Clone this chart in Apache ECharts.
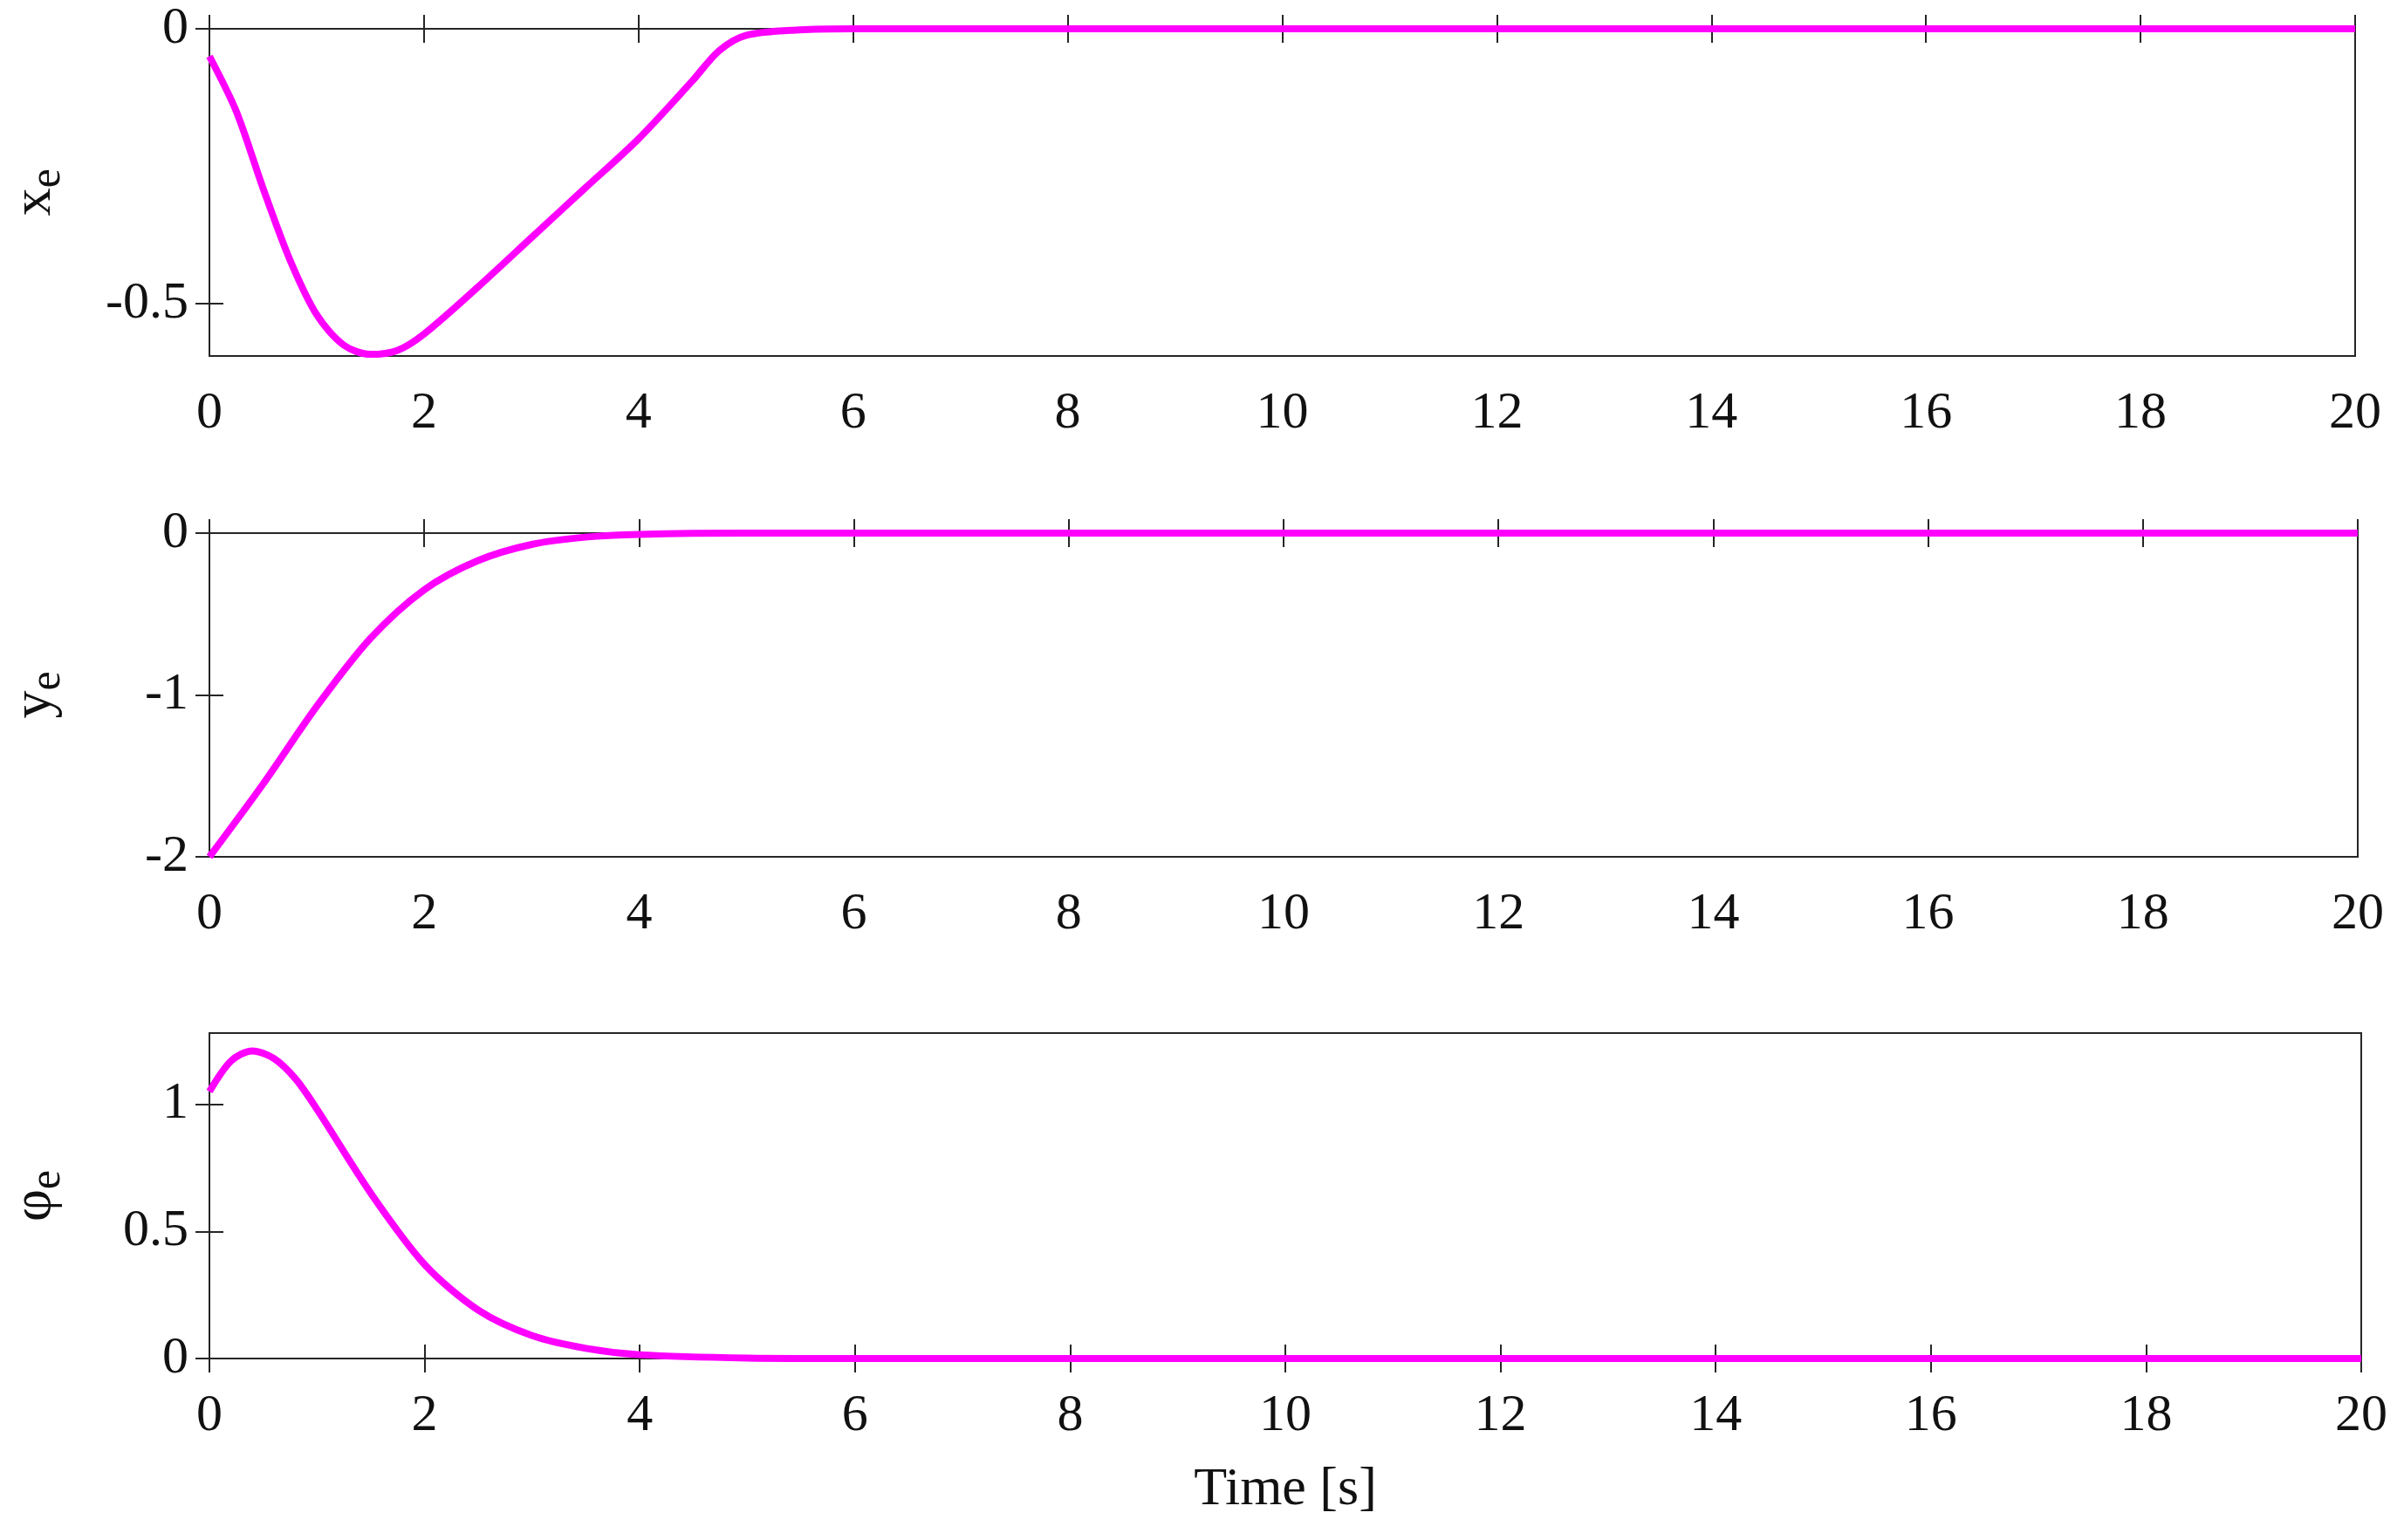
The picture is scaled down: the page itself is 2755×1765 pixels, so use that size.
<!DOCTYPE html>
<html>
<head>
<meta charset="utf-8">
<script src="https://cdn.jsdelivr.net/npm/echarts@6/dist/echarts.min.js"></script>
<style>html,body{margin:0;background:#fff}#c{width:2755px;height:1765px}</style>
</head>
<body>
<div id="c"></div>
<script>
// time samples and values
const tX = [0, 0.25, 0.5, 0.75, 1, 1.25, 1.5, 1.75, 2, 2.5, 3, 3.5, 4, 4.5, 4.75, 5, 5.5, 6, 10, 20]
const xe = [-0.05, -0.15, -0.29, -0.42, -0.52, -0.575, -0.592, -0.585, -0.555, -0.47, -0.38, -0.29, -0.20, -0.095, -0.04, -0.012, -0.002, 0, 0, 0]
const tY = [0, 0.5, 1, 1.5, 2, 2.5, 3, 3.5, 4, 5, 6, 10, 20]
const ye = [-2, -1.55, -1.07, -0.65, -0.35, -0.17, -0.07, -0.025, -0.008, 0, 0, 0, 0]
const tP = [0, 0.2, 0.4, 0.6, 0.8, 1, 1.5, 2, 2.5, 3, 3.5, 4, 5, 6, 10, 20]
const pe = [1.05, 1.17, 1.21, 1.18, 1.1, 0.98, 0.65, 0.37, 0.19, 0.09, 0.04, 0.015, 0.002, 0, 0, 0]

const font = 'Liberation Serif'
const panels = [
  {t: tX, v: xe, min: -0.595, max: 0, ticks: [-0.5, 0], name: 'x', grid: {left: 223, right: 56, top: 33, height: 375}},
  {t: tY, v: ye, min: -2, max: 0, ticks: [-2, -1, 0], name: 'y', grid: {left: 228, right: 53, top: 611, height: 371}},
  {t: tP, v: pe, min: 0, max: 1.28, ticks: [0, 0.5, 1], name: 'φ', grid: {left: 232, right: 49, top: 1184, height: 373}}
]

const chart = echarts.init(document.getElementById('c'))
const grid = [], xAxis = [], yAxis = [], series = []
const line = {show: true, lineStyle: {color: '#262626', width: 2}}
const tick = {inside: true, length: 16, lineStyle: {color: '#262626', width: 2}}
panels.forEach((p, i) => {
  grid.push(Object.assign({show: true, borderColor: '#262626', borderWidth: 2}, p.grid))
  xAxis.push({
    type: 'value', gridIndex: i, min: 0, max: 20, interval: 2, axisLine: line,
    axisTick: tick,
    axisLabel: {fontFamily: font, fontSize: 60, color: '#111', margin: 36},
    splitLine: {show: false},
    name: i === 2 ? 'Time [s]' : '', nameLocation: 'middle', nameGap: 120,
    nameTextStyle: {fontFamily: font, fontSize: 62, color: '#111'}
  })
  xAxis.push({
    type: 'value', gridIndex: i, position: 'top', min: 0, max: 20, interval: 2, axisLine: line,
    axisTick: tick, axisLabel: {show: false}, splitLine: {show: false}
  })
  yAxis.push({
    type: 'value', gridIndex: i, min: p.min, max: p.max, axisLine: line,
    axisTick: Object.assign({customValues: p.ticks}, tick),
    axisLabel: {fontFamily: font, fontSize: 60, color: '#111', margin: 24, customValues: p.ticks},
    splitLine: {show: false},
    name: '{a|' + p.name + '}{b|e}', nameLocation: 'middle', nameRotate: 90, nameGap: 160,
    nameTextStyle: {rich: {
      a: {fontFamily: font, fontSize: 64, color: '#111'},
      b: {fontFamily: font, fontSize: 50, color: '#111', padding: [30, 0, 0, 0]}
    }}
  })
  yAxis.push({
    type: 'value', gridIndex: i, position: 'right', min: p.min, max: p.max, axisLine: line,
    axisTick: Object.assign({customValues: p.ticks}, tick),
    axisLabel: {show: false}, splitLine: {show: false}
  })
  series.push({
    type: 'line', xAxisIndex: 2 * i, yAxisIndex: 2 * i, smooth: 0.3, showSymbol: false,
    lineStyle: {color: '#ff00ff', width: 8},
    data: p.t.map((t, k) => [t, p.v[k]])
  })
})
chart.setOption({animation: false, grid, xAxis, yAxis, series})
</script>
</body>
</html>
